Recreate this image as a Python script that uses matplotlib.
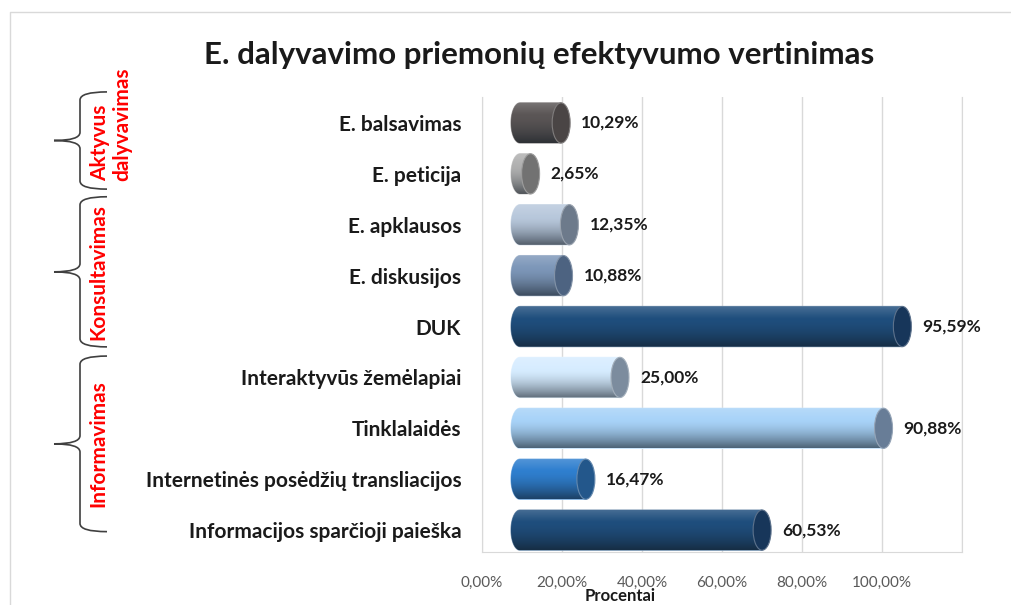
import matplotlib
matplotlib.use('Agg')
import matplotlib.pyplot as plt
import matplotlib.transforms as mtransforms
import numpy as np
from matplotlib.patches import Ellipse, PathPatch
from matplotlib.path import Path
from matplotlib.colors import to_rgb

plt.rcParams['font.family'] = ['Lato', 'DejaVu Sans']

# duomenys
kategorijos = ['E. balsavimas', 'E. peticija', 'E. apklausos', 'E. diskusijos', 'DUK',
               'Interaktyvūs žemėlapiai', 'Tinklalaidės',
               'Internetinės posėdžių transliacijos', 'Informacijos sparčioji paieška']
procentai = [10.29, 2.65, 12.35, 10.88, 95.59, 25.00, 90.88, 16.47, 60.53]
spalvos = ['#5b5656', '#b0b0b0', '#b8c8dc', '#7d97b9', '#1f4e7d',
           '#d6ecff', '#a8d3f8', '#2f7fcf', '#1f4e7d']
dangteliai = ['#4a4545', '#727272', '#6d7a8b', '#4d6381', '#17365a',
              '#7c8c9e', '#687d97', '#23578b', '#17365a']
x_zymes = ['0,00%', '20,00%', '40,00%', '60,00%', '80,00%', '100,00%', '']
# grupės: pavadinimas, pirma eilutė, paskutinė eilutė
grupes = [('Aktyvus\ndalyvavimas', 0, 1), ('Konsultavimas', 2, 4), ('Informavimas', 5, 8)]

gylis = 0.095   # 3D poslinkis
a = 0.0225      # elipsės pusplotis
h = 0.79        # stulpelio storis


def maisyti(c1, c2, t):
    c1, c2 = np.array(to_rgb(c1)), np.array(to_rgb(c2))
    return c1 * (1 - t) + c2 * t


def gradientas(spalva, n=64):
    virsus = maisyti(spalva, '#ffffff', 0.18)
    apacia = maisyti(spalva, '#101820', 0.6)
    t = np.linspace(0, 1, n)
    img = np.zeros((n, 1, 3))
    for k, tt in enumerate(t):
        if tt < 0.3:
            img[k, 0] = maisyti(virsus, spalva, tt / 0.3)
        else:
            img[k, 0] = maisyti(spalva, apacia, ((tt - 0.3) / 0.7) ** 1.6)
    return img


fig = plt.figure(figsize=(10.11, 6.05), dpi=100)
ax = fig.add_axes([482 / 1011, 53 / 605, 480 / 1011, 455 / 605])

y = np.arange(len(kategorijos))
for i, (v, c, d) in enumerate(zip(procentai, spalvos, dangteliai)):
    x0 = gylis
    x1 = gylis + v / 100
    th = np.linspace(np.pi / 2, 3 * np.pi / 2, 40)
    pts = [(x0 + a * np.cos(t), i - h / 2 * np.sin(t)) for t in th]
    pts += [(x1, i + h / 2), (x1, i - h / 2), pts[0]]
    kelias = Path(pts)
    kunas = PathPatch(kelias, facecolor=c, edgecolor=maisyti(c, '#ffffff', 0.4),
                      lw=0.8, zorder=2)
    ax.add_patch(kunas)
    im = ax.imshow(gradientas(c), extent=[x0 - a, x1, i + h / 2, i - h / 2],
                   aspect='auto', zorder=2, interpolation='bilinear')
    im.set_clip_path(kunas)
    ax.add_patch(Ellipse((x1, i), 2 * a, h, facecolor=d,
                         edgecolor=maisyti(d, '#ffffff', 0.3), lw=0.8, zorder=3))
    ax.annotate(f'{v:.2f}%'.replace('.', ','), xy=(x1 + a, i), xytext=(8, 0),
                textcoords='offset points', ha='left', va='center',
                fontsize=12.5, fontweight='bold', color='#1a1a1a')

ax.set_xlim(0, 1.2)
ax.set_ylim(8.43, -0.51)
ax.set_xticks(np.arange(0, 1.21, 0.2))
ax.set_xticklabels(x_zymes, fontsize=11, color='#595959')
ax.set_yticks(y)
ax.set_yticklabels(kategorijos, fontsize=15, fontweight='bold', color='#1a1a1a')
ax.tick_params(axis='x', length=0, pad=17)
ax.tick_params(axis='y', length=0, pad=15)
ax.grid(axis='x', color='#d9d9d9', lw=1)
ax.set_axisbelow(True)
for s in ['left', 'bottom', 'right']:
    ax.spines[s].set_color('#d9d9d9')
ax.spines['top'].set_visible(False)
ax.set_xlabel('Procentai', fontsize=12, fontweight='bold', color='#1a1a1a', va='center')
ax.xaxis.set_label_coords(0.2875, -0.097)

fig.text(539 / 1011, 1 - 55 / 605, 'E. dalyvavimo priemonių efektyvumo vertinimas',
         ha='center', va='center', fontsize=22.5, fontweight='bold', color='#1a1a1a')

# riestiniai skliaustai kairėje
tr = mtransforms.blended_transform_factory(fig.transFigure, ax.transData)
xe, xb, xt = 107 / 1011, 80 / 1011, 54 / 1011
r = 0.16
ribos = [(-0.61, 1.3), (1.45, 4.4), (4.58, 8.03)]
for (pav, g0, g1), (y0, y1) in zip(grupes, ribos):
    ym = (y0 + y1) / 2
    verts = [(xe, y0), (xb, y0), (xb, y0 + r),
             (xb, ym - r), (xb, ym), (xt, ym),
             (xb, ym), (xb, ym + r),
             (xb, y1 - r), (xb, y1), (xe, y1)]
    codes = [Path.MOVETO, Path.CURVE3, Path.CURVE3,
             Path.LINETO, Path.CURVE3, Path.CURVE3,
             Path.CURVE3, Path.CURVE3,
             Path.LINETO, Path.CURVE3, Path.CURVE3]
    fig.add_artist(PathPatch(Path(verts, codes), transform=tr, facecolor='none',
                             edgecolor='#404040', lw=1.2, clip_on=False))
    if '\n' in pav:
        fig.text(111 / 1011, y1 - 0.15, pav, transform=tr, rotation=90, ha='center',
                 va='bottom', multialignment='left', fontsize=15,
                 fontweight='bold', color='#ff0000', linespacing=1.15)
    else:
        fig.text(98 / 1011, ym, pav, transform=tr, rotation=90, ha='center',
                 va='center', fontsize=15, fontweight='bold', color='#ff0000')

# diagramos rėmelis
fig.add_artist(plt.Line2D([10 / 1011, 10 / 1011, 1], [0, 1 - 12 / 605, 1 - 12 / 605],
                          color='#d9d9d9', lw=1))

fig.savefig('out.png', dpi=100)
